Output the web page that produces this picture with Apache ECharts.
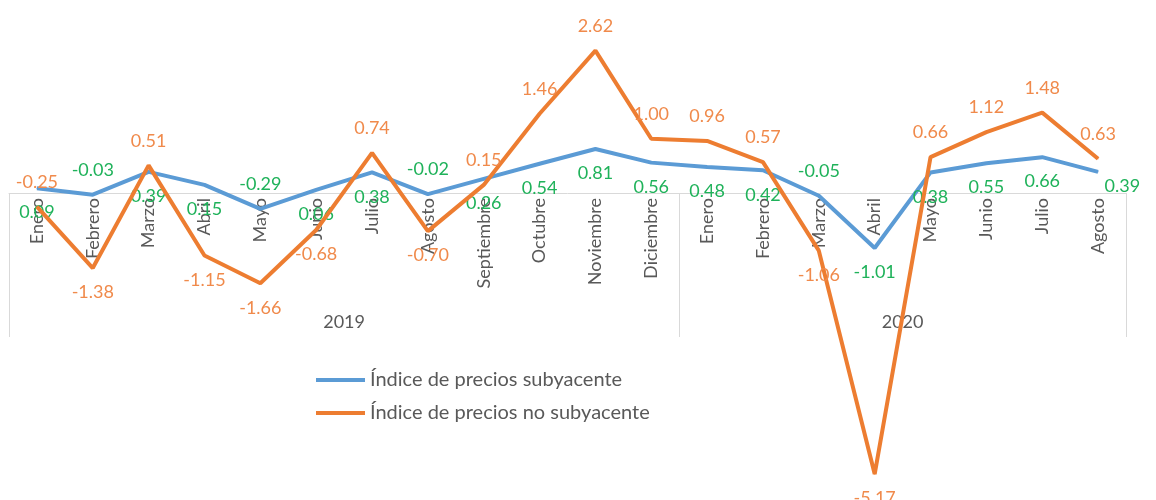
<!DOCTYPE html>
<html>
<head>
<meta charset="utf-8">
<script src="https://cdn.jsdelivr.net/npm/echarts@6/dist/echarts.min.js"></script>
<style>
html,body{margin:0;background:#fff}
#chart{width:1156px;height:500px}
</style>
</head>
<body>
<div id="chart"></div>
<script>
// datos: 2019 (12 meses) y 2020 (8 meses)
var meses = ['Enero','Febrero','Marzo','Abril','Mayo','Junio','Julio','Agosto','Septiembre','Octubre','Noviembre','Diciembre',
             'Enero','Febrero','Marzo','Abril','Mayo','Junio','Julio','Agosto'];
var anios = ['2019', '2020'];
var mesesPorAnio = [12, 8];
var subyacente = [0.09,-0.03,0.39,0.15,-0.29,0.06,0.38,-0.02,0.26,0.54,0.81,0.56,0.48,0.42,-0.05,-1.01,0.38,0.55,0.66,0.39];
var noSubyacente = [-0.25,-1.38,0.51,-1.15,-1.66,-0.68,0.74,-0.70,0.15,1.46,2.62,1.00,0.96,0.57,-1.06,-5.17,0.66,1.12,1.48,0.63];

var FONT = 'Lato';
var Y_MIN = -5.5, Y_MAX = 3;
var GRID_TOP = 30, GRID_BOTTOM = 8;
var gridH = 500 - GRID_TOP - GRID_BOTTOM;
// el eje de meses va en el cero (las etiquetas tambien)
var offsetCero = -gridH * (0 - Y_MIN) / (Y_MAX - Y_MIN);

// limites y centros de cada año (en unidades de categoria)
var limites = [0], centros = [];
for (let i = 0; i < mesesPorAnio.length; i++) {
    centros.push(limites[i] + mesesPorAnio[i] / 2);
    limites.push(limites[i] + mesesPorAnio[i]);
}

// posicion de etiquetas parecida a la de Excel
function datosSub() {
    return subyacente.map(function (v, i) {
        let lbl = { position: (v < 0 && v > -0.5) ? 'top' : 'bottom' };
        if (i === subyacente.length - 1) lbl = { position: 'right', distance: 6, offset: [0, 14] };
        return { value: v, label: lbl };
    });
}
function datosNoSub() {
    return noSubyacente.map(function (v) {
        return { value: v, label: { position: v < -0.5 ? 'bottom' : 'top' } };
    });
}

var chart = echarts.init(document.getElementById('chart'));
var option = {
    animation: false,
    backgroundColor: '#fff',
    textStyle: { fontFamily: FONT },
    grid: { left: 9, right: 30, top: GRID_TOP, bottom: GRID_BOTTOM, containLabel: false, outerBoundsMode: 'none' },
    legend: {
        orient: 'vertical',
        left: 316,
        top: 370,
        padding: 0,
        icon: 'rect',
        itemWidth: 49,
        itemHeight: 4,
        itemGap: 13,
        textStyle: { fontFamily: FONT, fontSize: 20, color: '#595959' },
        data: ['Índice de precios subyacente', 'Índice de precios no subyacente']
    },
    xAxis: [
        {
            type: 'category',
            data: meses,
            position: 'bottom',
            offset: offsetCero,
            boundaryGap: true,
            axisLine: { onZero: false, lineStyle: { color: '#d9d9d9', width: 1 } },
            axisTick: { show: false },
            axisLabel: { interval: 0, rotate: 90, margin: 5, fontFamily: FONT, fontSize: 18, color: '#595959' }
        },
        {
            type: 'value',
            min: 0,
            max: limites[limites.length - 1],
            position: 'bottom',
            offset: -155,
            axisLine: { show: false, onZero: false },
            splitLine: { show: false },
            axisTick: {
                show: true, inside: true, length: 144,
                customValues: limites,
                lineStyle: { color: '#d9d9d9', width: 1 }
            },
            axisLabel: {
                inside: true, margin: 6,
                customValues: centros,
                fontFamily: FONT, fontSize: 18, color: '#595959',
                formatter: function (v) {
                    let k = centros.indexOf(v);
                    return k >= 0 ? anios[k] : '';
                }
            }
        }
    ],
    yAxis: {
        type: 'value',
        min: Y_MIN,
        max: Y_MAX,
        show: false,
        splitLine: { show: false }
    },
    series: [
        {
            name: 'Índice de precios subyacente',
            type: 'line',
            xAxisIndex: 0,
            data: datosSub(),
            symbol: 'circle',
            symbolSize: 1,
            lineStyle: { color: '#5B9BD5', width: 4 },
            itemStyle: { color: '#5B9BD5' },
            label: { show: true, distance: 15, fontFamily: FONT, fontSize: 18, color: '#1FB25A',
                     formatter: function (p) { return p.value.toFixed(2); } },
            z: 3
        },
        {
            name: 'Índice de precios no subyacente',
            type: 'line',
            xAxisIndex: 0,
            data: datosNoSub(),
            symbol: 'circle',
            symbolSize: 1,
            lineStyle: { color: '#ED7D31', width: 4 },
            itemStyle: { color: '#ED7D31' },
            label: { show: true, distance: 15, fontFamily: FONT, fontSize: 18, color: '#F08A4B',
                     formatter: function (p) { return p.value.toFixed(2); } },
            z: 4
        }
    ]
};
chart.setOption(option);
</script>
</body>
</html>
